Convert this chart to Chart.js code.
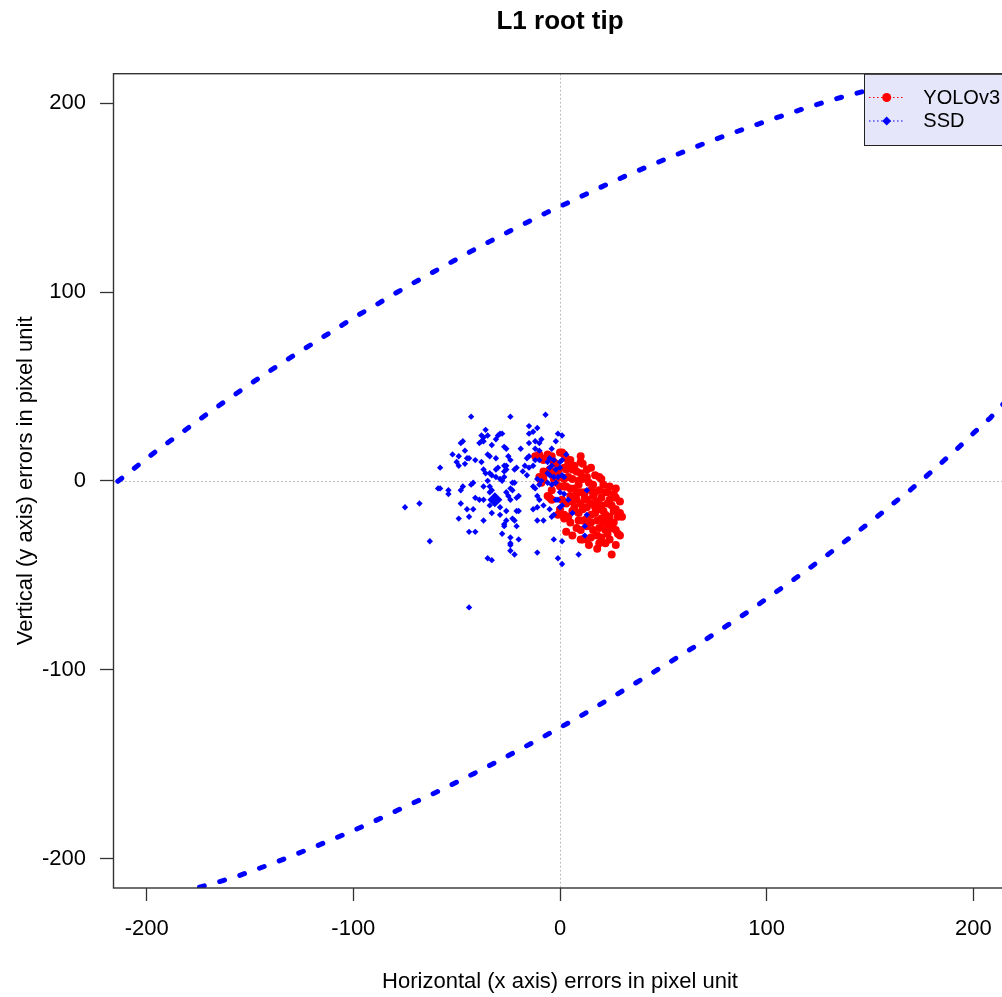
<!DOCTYPE html>
<html>
<head>
<meta charset="utf-8">
<title>L1 root tip</title>
<script src="https://cdn.jsdelivr.net/npm/chart.js@4.4.1/dist/chart.umd.min.js"></script>
<style>
  html, body { margin: 0; padding: 0; background: #fff; overflow: hidden; }
  #wrap { width: 1015px; height: 997px; }
</style>
</head>
<body>
<div id="wrap"><canvas id="errChart" width="1015" height="997"></canvas></div>
<script>
// tick labels
const xTicks = [-200, -100, 0, 100, 200];
const yTicks = [-200, -100, 0, 100, 200];

// SSD errors (x, y) in pixels
const ssdPoints = [
  [-43,34],[-24,34],[-36,27],[-38,24],[-37,23],[-35,24],[-30,24],[-29,25],[-28,25],[-31,22],
  [-48,20],[-47,21],[-39,20],[-38,21],[-37,21],[-33,19],[-27,18],[-26,17],[-46,16],[-52,14],
  [-49,13],[-45,12],[-44,12],[-35,14],[-34,13],[-31,12],[-25,13],[-24,11],[-50,10],[-49,8],
  [-46,9],[-41,11],[-38,10],[-37,6],[-36,4],[-34,4],[-33,3],[-30,7],[-31,6],[-27,8],
  [-26,8],[-27,5],[-26,6],[-22,6],[-21,7],[-58,7],[-31,2],[-29,1],[-28,0],[-27,2],
  [-35,0],[-23,-1],[-22,-1],[-43,-2],[-42,-1],[-59,-4],[-58,-4],[-54,-5],[-54,-7],[-48,-5],
  [-47,-3],[-37,-3],[-34,-3],[-33,-5],[-34,-6],[-26,-6],[-24,-4],[-23,-5],[-41,-9],[-39,-10],
  [-37,-10],[-25,-8],[-24,-10],[-21,-9],[-20,-8],[-75,-14],[-68,-12],[-48,-12],[-45,-15],[-42,-15],
  [-34,-13],[-29,-14],[-26,-16],[-21,-16],[-20,-16],[-33,-17],[-44,-19],[-49,-20],[-29,-18],[-37,-21],
  [-26,-21],[-27,-23],[-27,-24],[-28,-28],[-23,-20],[-22,-21],[-21,-24],[-44,-27],[-41,-27],[-63,-32],
  [-24,-30],[-24,-33],[-24,-34],[-20,-31],[-24,-37],[-22,-39],[-35,-41],[-33,-42],[-44,-67],[-7,35],
  [-15,29],[-11,28],[-15,25],[-13,26],[-1,25],[1,24],[-9,22],[-10,20],[-12,21],[-15,20],
  [-2,21],[-19,17],[-12,17],[-10,16],[-4,17],[3,14],[-16,12],[-15,13],[-12,11],[-10,11],
  [-6,10],[-5,12],[-3,11],[0,10],[1,11],[-17,8],[-18,5],[-16,3],[-15,7],[-13,8],
  [-5,7],[-4,8],[-2,6],[0,7],[-6,4],[-5,3],[-3,2],[-1,2],[1,3],[2,2],
  [-11,1],[-9,0],[-13,-3],[-12,-4],[-10,-2],[-6,-1],[-4,-2],[-2,-1],[0,-6],[2,-7],
  [13,-5],[-11,-8],[-10,-10],[-2,-10],[-1,-10],[-11,-14],[-13,-15],[-8,-13],[-5,-15],[0,-14],
  [1,-13],[4,-10],[6,-17],[-11,-21],[-8,-21],[-4,-19],[-3,-18],[13,-18],[12,-24],[12,-29],
  [-3,-31],[1,-32],[-11,-38],[-1,-41],[1,-44],[9,-39]
];
const ssdMean = [-31.5, -10];

// YOLOv3 errors (x, y) in pixels
const yoloPoints = [
  [-10,14],[-9,12],[-8,11],[0,15],[1,15],[3,12],[5,11],[10,10],[11,9],[-3,10],
  [-2,9],[-8,5],[-8,3],[-8,1],[-5,6],[-3,5],[2,7],[3,6],[6,6],[8,5],
  [10,4],[17,3],[19,2],[20,1],[0,2],[2,1],[4,2],[6,1],[9,0],[11,1],
  [14,-1],[-6,-8],[-5,-9],[-4,-10],[0,-3],[2,-3],[5,-4],[7,-4],[10,-6],[12,-6],
  [15,-5],[17,-6],[19,-5],[22,-6],[23,-6],[27,-4],[26,-7],[27,-9],[29,-11],[1,-10],
  [3,-12],[6,-11],[8,-10],[10,-12],[13,-10],[15,-12],[18,-11],[20,-13],[23,-12],[25,-13],
  [27,-15],[29,-17],[28,-19],[0,-15],[2,-18],[4,-19],[6,-16],[9,-17],[11,-15],[15,-18],
  [17,-17],[19,-15],[22,-18],[24,-19],[11,-21],[15,-22],[18,-21],[21,-22],[23,-24],[25,-25],
  [27,-26],[8,-25],[10,-26],[13,-24],[28,-28],[29,-29],[18,-29],[20,-30],[19,-33],[11,-31],
  [13,-31],[23,-28],[24,-31],[25,-39],[-3,1],[-2,-1],[-4,-5],[-12,13],[10,-31],[30,-19],
  [5,-8],[8,-7],[12,-9],[16,-8],[20,-9],[24,-10],[7,-14],[13,-14],[17,-14],[21,-16],
  [26,-16],[9,-21],[13,-20],[20,-20],[23,-21],[26,-22],[16,-26],[19,-25],[22,-26],[5,-22],
  [3,-27],[6,-29],[15,-30],[22,-33],[27,-34],[18,-36],[14,-34],[3,-3],[9,-2],[13,2],
  [16,-2],[21,-2],[24,-3],[-1,5],[4,9],[7,8],[13,6],[15,7],[-6,14],[-4,13],
  [2,14],[10,13],[2,-20],[-1,-18],[-10,2],[-9,-1]
];

// SSD confidence ellipse, the two visible arcs
const ellipseUpper = [
  [-222,-7],[-210.4,2.8],[-202.4,9.8],[-193.9,17.0],[-185.1,23.9],[-176.7,30.7],[-168.4,37.3],
  [-159.7,43.9],[-151.1,50.4],[-142.4,56.8],[-133.9,62.9],[-124.8,69.1],[-116.0,75.3],[-106.9,81.5],
  [-98.1,87.5],[-88.7,93.4],[-79.7,99.3],[-70.6,105.0],[-61.3,110.6],[-52.1,116.1],[-43.1,121.5],
  [-33.9,126.8],[-24.7,132.0],[-15.3,137.2],[-6.0,142.3],[3.7,147.2],[12.9,152.0],[22.3,156.8],
  [31.8,161.5],[41.5,166.0],[51.1,170.4],[60.8,174.7],[70.6,179.0],[80.6,183.0],[90.5,186.9],
  [100.3,190.6],[110.2,194.3],[120.3,197.9],[130.3,201.3],[140.3,204.4],[152,207.6],[165,210.6]
];
const ellipseLower = [
  [-184,-219],[-175.4,-215.5],[-166.3,-212.7],[-155.9,-209.3],[-146.3,-205.5],[-136.4,-201.5],
  [-126.6,-197.2],[-117.0,-193.0],[-107.4,-188.6],[-97.8,-184.1],[-88.2,-179.4],[-78.9,-174.6],
  [-69.5,-169.8],[-59.9,-164.9],[-50.6,-159.9],[-41.3,-154.8],[-32.2,-149.7],[-23.1,-144.4],
  [-14.0,-139.1],[-4.9,-133.6],[4.2,-128.1],[13.3,-122.4],[22.3,-116.5],[31.4,-110.5],
  [40.5,-104.5],[49.5,-98.4],[58.6,-92.3],[67.7,-86.1],[76.2,-79.9],[85.3,-73.5],[93.9,-67.1],
  [102.2,-60.6],[111.0,-53.9],[119.6,-47.1],[128.2,-40.2],[136.4,-33.3],[144.8,-26.3],
  [153.1,-19.3],[161.1,-12.1],[169.7,-4.7],[177.5,2.7],[185.2,10.2],[193.0,17.8],[200.3,25.5],
  [208.3,33.4],[213.2,39.4],[222,48]
];

const legendLabels = ['YOLOv3', 'SSD'];
const legendColors = ['#ff0000', '#0000ff'];

const FONT = "'Liberation Sans', Arial, Helvetica, sans-serif";
Chart.defaults.font.family = FONT;
Chart.defaults.color = '#000';

function toXY(list) {
    return list.map(function(p) { return { x: p[0], y: p[1] }; });
}

// R style frame, zero lines and legend
const rFrame = {
    id: 'rFrame',
    beforeDatasetsDraw(chart) {
        const ctx = chart.ctx;
        const a = chart.chartArea;
        const x0 = Math.round(chart.scales.x.getPixelForValue(0)) + 0.5;
        const y0 = Math.round(chart.scales.y.getPixelForValue(0)) + 0.5;
        ctx.save();
        ctx.strokeStyle = '#bdbdbd';
        ctx.lineWidth = 1;
        ctx.setLineDash([2, 2]);
        ctx.beginPath();
        ctx.moveTo(x0, a.top);
        ctx.lineTo(x0, a.bottom);
        ctx.moveTo(a.left, y0);
        ctx.lineTo(a.right, y0);
        ctx.stroke();
        ctx.restore();
    },
    afterDatasetsDraw(chart) {
        const ctx = chart.ctx;
        const a = chart.chartArea;
        ctx.save();

        // legend box in the top right corner
        const w = 143, h = 71.3;
        const lx = a.right - w, ly = a.top;
        ctx.fillStyle = '#e6e6fa';
        ctx.fillRect(lx, ly, w, h);
        ctx.strokeStyle = '#222';
        ctx.lineWidth = 1;
        ctx.strokeRect(lx + 0.5, ly + 0.5, w, h);

        ctx.font = '20px ' + FONT;
        ctx.textBaseline = 'middle';
        ctx.textAlign = 'left';
        legendLabels.forEach(function(label, i) {
            const ry = ly + 23.8 + i * 23.5;
            const color = legendColors[i];
            ctx.strokeStyle = color;
            ctx.setLineDash([1.5, 2.5]);
            ctx.beginPath();
            ctx.moveTo(lx + 5, ry);
            ctx.lineTo(lx + 39, ry);
            ctx.stroke();
            ctx.setLineDash([]);
            ctx.fillStyle = color;
            ctx.beginPath();
            if (i === 0) {
                ctx.arc(lx + 22.7, ry, 4.5, 0, Math.PI * 2);
            } else {
                ctx.moveTo(lx + 22.7 - 4.5, ry);
                ctx.lineTo(lx + 22.7, ry - 4.5);
                ctx.lineTo(lx + 22.7 + 4.5, ry);
                ctx.lineTo(lx + 22.7, ry + 4.5);
                ctx.closePath();
            }
            ctx.fill();
            ctx.fillStyle = '#000';
            ctx.fillText(label, lx + 59.3, ry + 0.5);
        });

        // plot box
        ctx.strokeStyle = '#333';
        ctx.lineWidth = 1.4;
        ctx.strokeRect(a.left + 0.5, a.top, a.right - a.left, a.bottom - a.top);
        ctx.restore();
    }
};

// canvas is 1015 wide; 8 px right padding puts the plot edge at 1007, just past the 1002 px window
const ctx = document.getElementById('errChart').getContext('2d');
new Chart(ctx, {
    type: 'scatter',
    data: {
        datasets: [
            {
                label: 'SSD mean',
                data: toXY([ssdMean]),
                pointStyle: 'rectRot',
                pointRadius: 7.5,
                backgroundColor: '#0000ff',
                borderWidth: 0,
                order: 0
            },
            {
                label: 'SSD',
                data: toXY(ssdPoints),
                pointStyle: 'rectRot',
                pointRadius: 3.2,
                backgroundColor: '#0000ff',
                borderWidth: 0,
                order: 1
            },
            {
                label: 'YOLOv3',
                data: toXY(yoloPoints),
                pointStyle: 'circle',
                pointRadius: 4,
                backgroundColor: '#ff0000',
                borderWidth: 0,
                order: 2
            },
            {
                label: 'SSD ellipse upper',
                data: toXY(ellipseUpper),
                showLine: true,
                pointRadius: 0,
                borderColor: '#0000ff',
                borderWidth: 5,
                borderDash: [5, 16],
                borderCapStyle: 'round',
                borderJoinStyle: 'round',
                tension: 0,
                fill: false,
                clip: 0,
                order: 3
            },
            {
                label: 'SSD ellipse lower',
                data: toXY(ellipseLower),
                showLine: true,
                pointRadius: 0,
                borderColor: '#0000ff',
                borderWidth: 5,
                borderDash: [5, 16],
                borderCapStyle: 'round',
                borderJoinStyle: 'round',
                tension: 0,
                fill: false,
                clip: 0,
                order: 3
            }
        ]
    },
    options: {
        responsive: false,
        animation: false,
        devicePixelRatio: 1,
        events: [],
        layout: { padding: { top: 0, right: 8, bottom: 0, left: 0 } },
        plugins: {
            legend: { display: false },
            tooltip: { enabled: false },
            title: {
                display: true,
                text: 'L1 root tip',
                fullSize: false,
                color: '#000',
                font: { size: 26, weight: 'bold', family: FONT },
                padding: { top: 6, bottom: 36.5 }
            }
        },
        scales: {
            x: {
                type: 'linear',
                position: 'bottom',
                min: -216.3,
                max: 216.3,
                afterBuildTicks: function(axis) {
                    axis.ticks = xTicks.map(function(v) { return { value: v }; });
                },
                afterFit: function(axis) { axis.height = 109; },
                grid: {
                    drawOnChartArea: false,
                    drawTicks: true,
                    tickLength: 13,
                    tickColor: '#333',
                    tickWidth: 1.3
                },
                border: { display: false },
                ticks: {
                    color: '#000',
                    font: { size: 22, family: FONT, lineHeight: 2.56 },
                    padding: 0,
                    maxRotation: 0,
                    autoSkip: false
                },
                title: {
                    display: true,
                    text: 'Horizontal (x axis) errors in pixel unit',
                    color: '#000',
                    font: { size: 22, family: FONT },
                    padding: { top: 0, bottom: 2 }
                }
            },
            y: {
                type: 'linear',
                position: 'left',
                min: -215.6,
                max: 215.6,
                afterBuildTicks: function(axis) {
                    axis.ticks = yTicks.map(function(v) { return { value: v }; });
                },
                afterFit: function(axis) { axis.width = 113; },
                grid: {
                    drawOnChartArea: false,
                    drawTicks: true,
                    tickLength: 13,
                    tickColor: '#333',
                    tickWidth: 1.3
                },
                border: { display: false },
                ticks: {
                    color: '#000',
                    font: { size: 22, family: FONT },
                    padding: 14,
                    autoSkip: false
                },
                title: {
                    display: true,
                    text: 'Vertical (y axis) errors in pixel unit',
                    color: '#000',
                    font: { size: 22, family: FONT },
                    padding: { top: 13, bottom: 0 }
                }
            }
        }
    },
    plugins: [rFrame]
});
</script>
</body>
</html>
